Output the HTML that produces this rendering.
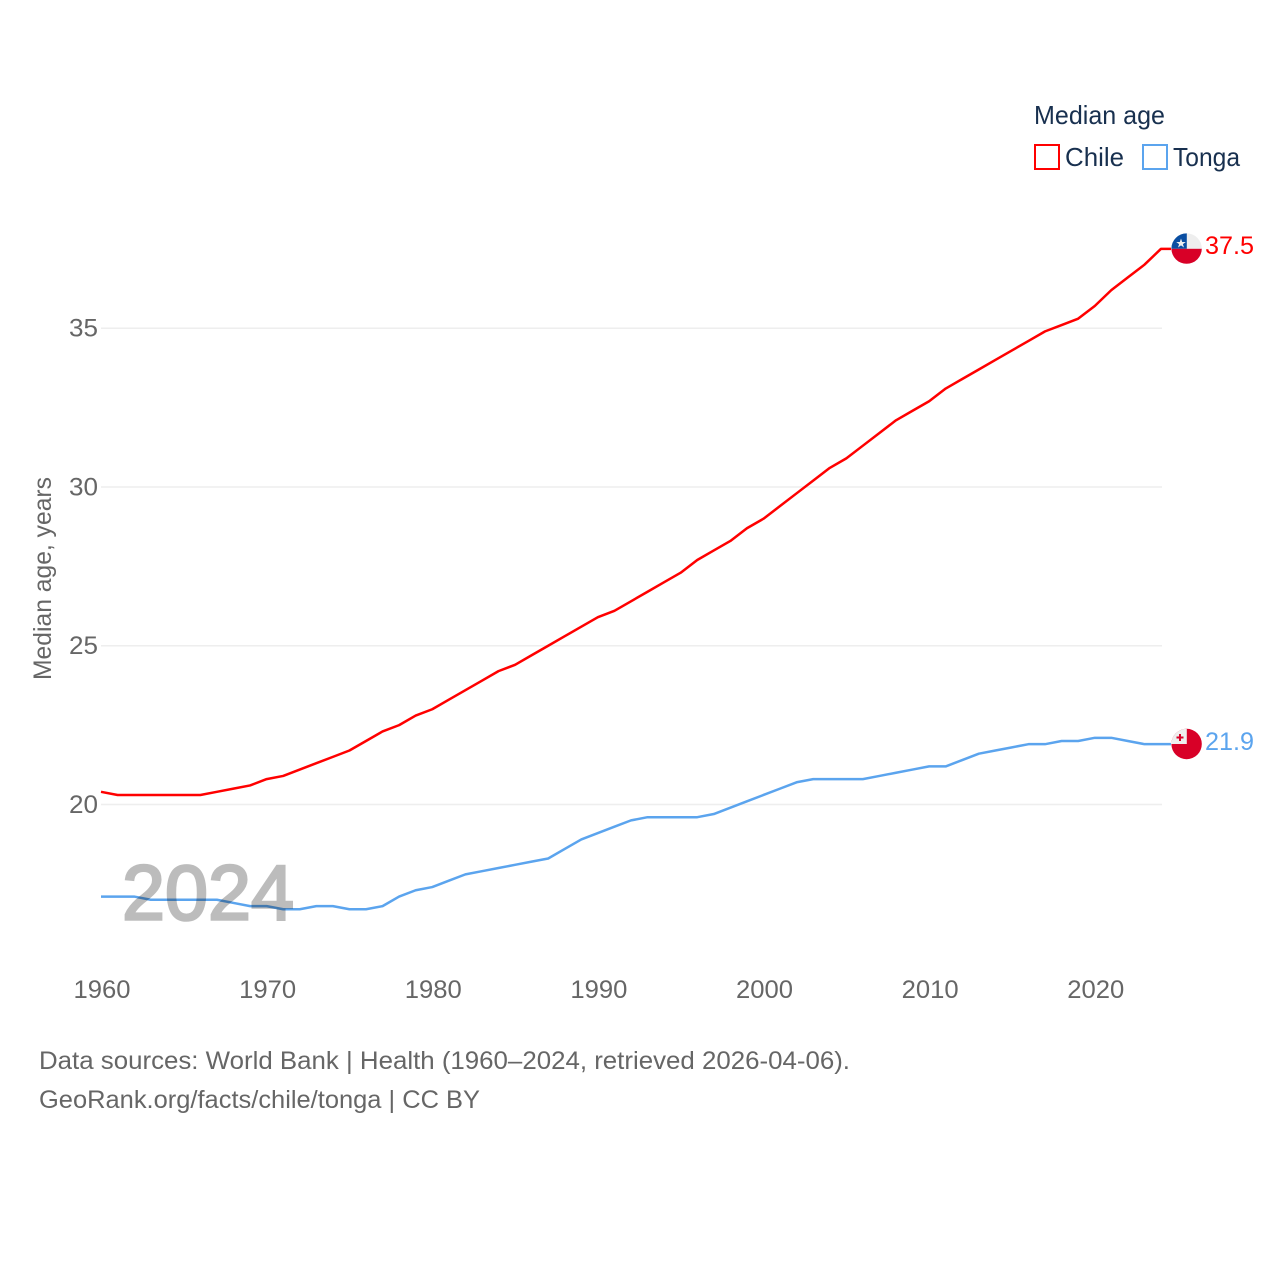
<!DOCTYPE html>
<html lang="en">
<head>
<meta charset="utf-8">
<title>Median age: Chile and Tonga</title>
<style>
html,body{margin:0;padding:0;background:#fff;}
svg{display:block;font-family:"Liberation Sans",sans-serif;}
</style>
</head>
<body>
<svg id="chart" xmlns="http://www.w3.org/2000/svg" width="1280" height="1280" viewBox="0 0 1280 1280">
  <defs>
    <clipPath id="flag-clip-cl"><circle cx="1186.6" cy="248.6" r="15.2"/></clipPath>
    <clipPath id="flag-clip-to"><circle cx="1186.6" cy="744" r="15.2"/></clipPath>
  </defs>
  <rect width="1280" height="1280" fill="#fff"/>
  <g id="grid"></g>
  <g id="yticks"></g>
  <g id="xticks"></g>
  <text transform="translate(51 680) rotate(-90)" font-size="25" fill="#666" textLength="203" lengthAdjust="spacingAndGlyphs">Median age, years</text>
  <g id="series"></g>
  <g opacity="0.26">
    <text x="122" y="919.7" font-size="78" fill="#000" stroke="#000" stroke-width="2.6" textLength="172" lengthAdjust="spacingAndGlyphs">2024</text>
  </g>

  <g clip-path="url(#flag-clip-cl)">
    <rect x="1171" y="233" width="31" height="16" fill="#eee"/>
    <rect x="1171" y="233" width="15.8" height="15.8" fill="#0a4ea2"/>
    <rect x="1171" y="248.8" width="31" height="16" fill="#d80027"/>
    <polygon points="1181,238.5 1182.2,242 1185.8,242 1182.9,244.1 1184,247.5 1181,245.4 1178,247.5 1179.1,244.1 1176.2,242 1179.8,242" fill="#eee"/>
  </g>
  <text id="label-chile" x="1205" y="254" font-size="25" fill="#ff0000" textLength="49" lengthAdjust="spacingAndGlyphs">37.5</text>

  <g clip-path="url(#flag-clip-to)">
    <rect x="1171" y="728" width="31" height="32" fill="#d80027"/>
    <rect x="1171" y="728" width="15.8" height="16" fill="#eee"/>
    <rect x="1179" y="734" width="2" height="7" fill="#d80027"/>
    <rect x="1176.5" y="736.5" width="7" height="2" fill="#d80027"/>
  </g>
  <text id="label-tonga" x="1205" y="750" font-size="25" fill="#5ba4ee" textLength="49" lengthAdjust="spacingAndGlyphs">21.9</text>

  <g>
    <text x="1034" y="124" font-size="26" fill="#18304f" textLength="131" lengthAdjust="spacingAndGlyphs">Median age</text>
    <g>
      <rect x="1035" y="145" width="24" height="24" fill="none" stroke="#ff0000" stroke-width="2"/>
      <text x="1065" y="166" font-size="26" fill="#18304f" textLength="59" lengthAdjust="spacingAndGlyphs">Chile</text>
    </g>
    <g>
      <rect x="1143" y="145" width="24" height="24" fill="none" stroke="#5ba4ee" stroke-width="2"/>
      <text x="1173" y="166" font-size="26" fill="#18304f" textLength="67" lengthAdjust="spacingAndGlyphs">Tonga</text>
    </g>
  </g>

  <text x="39" y="1069" font-size="25" fill="#666" textLength="811" lengthAdjust="spacingAndGlyphs">Data sources: World Bank | Health (1960–2024, retrieved 2026-04-06).</text>
  <text x="39" y="1108" font-size="25" fill="#666" textLength="441" lengthAdjust="spacingAndGlyphs">GeoRank.org/facts/chile/tonga | CC BY</text>
</svg>
<script>
const years = [1960,1961,1962,1963,1964,1965,1966,1967,1968,1969,1970,1971,1972,1973,1974,1975,1976,1977,1978,1979,1980,1981,1982,1983,1984,1985,1986,1987,1988,1989,1990,1991,1992,1993,1994,1995,1996,1997,1998,1999,2000,2001,2002,2003,2004,2005,2006,2007,2008,2009,2010,2011,2012,2013,2014,2015,2016,2017,2018,2019,2020,2021,2022,2023,2024];
const chileValues = [20.4,20.3,20.3,20.3,20.3,20.3,20.3,20.4,20.5,20.6,20.8,20.9,21.1,21.3,21.5,21.7,22.0,22.3,22.5,22.8,23.0,23.3,23.6,23.9,24.2,24.4,24.7,25.0,25.3,25.6,25.9,26.1,26.4,26.7,27.0,27.3,27.7,28.0,28.3,28.7,29.0,29.4,29.8,30.2,30.6,30.9,31.3,31.7,32.1,32.4,32.7,33.1,33.4,33.7,34.0,34.3,34.6,34.9,35.1,35.3,35.7,36.2,36.6,37.0,37.5];
const tongaValues = [17.1,17.1,17.1,17.0,17.0,17.0,17.0,17.0,16.9,16.8,16.8,16.7,16.7,16.8,16.8,16.7,16.7,16.8,17.1,17.3,17.4,17.6,17.8,17.9,18.0,18.1,18.2,18.3,18.6,18.9,19.1,19.3,19.5,19.6,19.6,19.6,19.6,19.7,19.9,20.1,20.3,20.5,20.7,20.8,20.8,20.8,20.8,20.9,21.0,21.1,21.2,21.2,21.4,21.6,21.7,21.8,21.9,21.9,22.0,22.0,22.1,22.1,22.0,21.9,21.9];
const yTickValues = [20,25,30,35];
const xTickValues = [1960,1970,1980,1990,2000,2010,2020];

const NS = 'http://www.w3.org/2000/svg';
const xScale = function (year) { return 101 + (year - 1960) * (1161 - 101) / 64; };
const yScale = function (value) { return 804.5 - (value - 20) * (804.5 - 328.2) / 15; };

const grid = document.getElementById('grid');
const yticks = document.getElementById('yticks');
const xticks = document.getElementById('xticks');
const series = document.getElementById('series');

yTickValues.forEach(function (v) {
  const line = document.createElementNS(NS, 'line');
  
  
  line.setAttribute('x1', 101);
  line.setAttribute('x2', 1162);
  line.setAttribute('y1', yScale(v));
  line.setAttribute('y2', yScale(v));
  line.setAttribute('stroke', '#eeeeee');
  line.setAttribute('stroke-width', '1.5');
  grid.appendChild(line);

  const label = document.createElementNS(NS, 'text');
  
  
  label.setAttribute('x', 98);
  label.setAttribute('y', yScale(v) + 8.5);
  label.setAttribute('text-anchor', 'end');
  label.setAttribute('font-size', '25');
  label.setAttribute('fill', '#666');
  label.setAttribute('textLength', '29');
  label.setAttribute('lengthAdjust', 'spacingAndGlyphs');
  label.textContent = v;
  yticks.appendChild(label);
});

xTickValues.forEach(function (t) {
  const label = document.createElementNS(NS, 'text');
  
  
  label.setAttribute('x', xScale(t) + 1);
  label.setAttribute('y', 998);
  label.setAttribute('text-anchor', 'middle');
  label.setAttribute('font-size', '25');
  label.setAttribute('fill', '#666');
  label.setAttribute('textLength', '57');
  label.setAttribute('lengthAdjust', 'spacingAndGlyphs');
  label.textContent = t;
  xticks.appendChild(label);
});

function linePoints(values) {
  const pts = values.map(function (v, i) { return xScale(years[i]) + ',' + yScale(v); });
  pts.push('1171,' + yScale(values[values.length - 1]));
  return pts.join(' ');
}

const chileLine = document.createElementNS(NS, 'polyline');


chileLine.setAttribute('points', linePoints(chileValues));
chileLine.setAttribute('fill', 'none');
chileLine.setAttribute('stroke', '#ff0000');
chileLine.setAttribute('stroke-width', '2.5');
chileLine.setAttribute('stroke-linejoin', 'round');
series.appendChild(chileLine);

const tongaLine = document.createElementNS(NS, 'polyline');


tongaLine.setAttribute('points', linePoints(tongaValues));
tongaLine.setAttribute('fill', 'none');
tongaLine.setAttribute('stroke', '#5ba4ee');
tongaLine.setAttribute('stroke-width', '2.5');
tongaLine.setAttribute('stroke-linejoin', 'round');
series.appendChild(tongaLine);

document.getElementById('label-chile').textContent = chileValues[chileValues.length - 1].toFixed(1);
document.getElementById('label-tonga').textContent = tongaValues[tongaValues.length - 1].toFixed(1);
</script>
</body>
</html>
